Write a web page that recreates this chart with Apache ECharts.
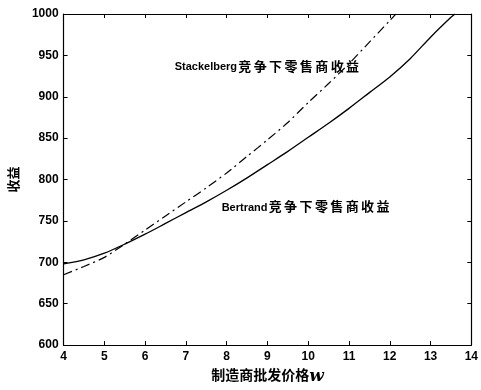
<!DOCTYPE html>
<html>
<head>
<meta charset="utf-8">
<script src="https://cdn.jsdelivr.net/npm/echarts@6/dist/echarts.min.js"></script>
<style>
html,body{margin:0;padding:0;background:#fff;}
#c{width:481px;height:390px;}
</style>
</head>
<body>
<div id="c"></div>
<script>
// Bertrand (solid)
const bertrandX = [4, 4.5, 5, 5.5, 6, 6.5, 7, 7.5, 8, 8.5, 9, 9.5, 10, 10.5, 11, 11.5, 12, 12.5, 13, 13.5, 13.6];
const bertrandY = [698, 703, 711, 722, 734, 747, 760, 773, 787, 802, 818, 834, 851, 868, 886, 905, 924, 946, 972, 996, 1000];
// Stackelberg (dash-dot)
const stackX = [4, 4.5, 5, 5.5, 6, 6.5, 7, 7.5, 8, 8.5, 9, 9.5, 10, 10.5, 11, 11.5, 12, 12.15];
const stackY = [685, 695, 706, 722, 739, 756, 773, 790, 808, 828, 848, 869, 893, 916, 940, 966, 992, 1000];
// Annotations (data coordinates)
const labelStack = {text: 'Stackelberg', cjk: '竞争下零售商收益', x: 9.0, y: 936};
const labelBert = {text: 'Bertrand', cjk: '竞争下零售商收益', x: 9.95, y: 766};
const xName = '制造商批发价格';
const yName = '收益';

const zip = (xs, ys) => xs.map((x, i) => [x, ys[i]]);
const cjkRich = s => s.split('').map(ch => '{c|' + ch + '}').join('');

const FONT = "'Liberation Sans', 'Noto Sans CJK SC', sans-serif";
const labelStyle = {
  show: true,
  position: 'inside',
  color: '#000',
  fontFamily: FONT,
  fontSize: 12,
  fontWeight: 'bold',
  rich: {
    l: {fontFamily: FONT, fontSize: 11, fontWeight: 'bold', color: '#000'},
    c: {fontFamily: FONT, fontSize: 13, fontWeight: 'bold', color: '#000', width: 15.4, align: 'center'}
  }
};

const chart = echarts.init(document.getElementById('c'), null, {renderer: 'canvas'});
const axisCommon = {
  axisLine: {show: true, lineStyle: {color: '#000', width: 1.2}},
  axisTick: {show: true, inside: true, length: 4, lineStyle: {color: '#000'}},
  splitLine: {show: false}
};
chart.setOption({
  animation: false,
  backgroundColor: '#fff',
  grid: {left: 58, right: 3, top: 14, bottom: 37, containLabel: false},
  xAxis: [
    Object.assign({
      type: 'value', min: 4, max: 14, interval: 1, position: 'bottom',
      name: xName + '{w|w}', nameLocation: 'middle', nameGap: 17,
      nameTextStyle: {fontFamily: FONT, fontSize: 14, fontWeight: 'bold', color: '#000',
        rich: {w: {fontFamily: "'DejaVu Serif', serif", fontStyle: 'italic', fontWeight: 'bold', fontSize: 17, color: '#000'}}},
      axisLabel: {color: '#000', fontFamily: FONT, fontSize: 12, fontWeight: 'bold', margin: 6, showMaxLabel: true,
        formatter: v => String(v)}
    }, axisCommon),
    Object.assign({
      type: 'value', min: 4, max: 14, interval: 1, position: 'top',
      axisLabel: {show: false}
    }, axisCommon)
  ],
  yAxis: [
    Object.assign({
      type: 'value', min: 600, max: 1000, interval: 50, position: 'left',
      name: yName, nameLocation: 'middle', nameGap: 38, nameRotate: 90,
      nameTextStyle: {fontFamily: FONT, fontSize: 13, fontWeight: 'bold', color: '#000'},
      axisLabel: {color: '#000', fontFamily: FONT, fontSize: 12, fontWeight: 'bold', margin: 5,
        formatter: v => String(v)}
    }, axisCommon),
    Object.assign({
      type: 'value', min: 600, max: 1000, interval: 50, position: 'right',
      axisLabel: {show: false}
    }, axisCommon)
  ],
  series: [
    {
      type: 'line', name: 'Bertrand', xAxisIndex: 0, yAxisIndex: 0,
      data: zip(bertrandX, bertrandY), smooth: 0.25, symbol: 'none',
      lineStyle: {color: '#000', width: 1.3, type: 'solid'},
      markPoint: {
        symbol: 'circle', symbolSize: 0, silent: true,
        itemStyle: {color: 'transparent'},
        data: [{coord: [labelBert.x, labelBert.y], value: 0}],
        label: Object.assign({}, labelStyle, {formatter: '{l|' + labelBert.text + '}' + cjkRich(labelBert.cjk)})
      }
    },
    {
      type: 'line', name: 'Stackelberg', xAxisIndex: 0, yAxisIndex: 0,
      data: zip(stackX, stackY), smooth: 0.25, symbol: 'none',
      lineStyle: {color: '#000', width: 1.2, type: [9, 4, 2, 4]},
      markPoint: {
        symbol: 'circle', symbolSize: 0, silent: true,
        itemStyle: {color: 'transparent'},
        data: [{coord: [labelStack.x, labelStack.y], value: 0}],
        label: Object.assign({}, labelStyle, {formatter: '{l|' + labelStack.text + '}' + cjkRich(labelStack.cjk)})
      }
    }
  ]
});
</script>
</body>
</html>
